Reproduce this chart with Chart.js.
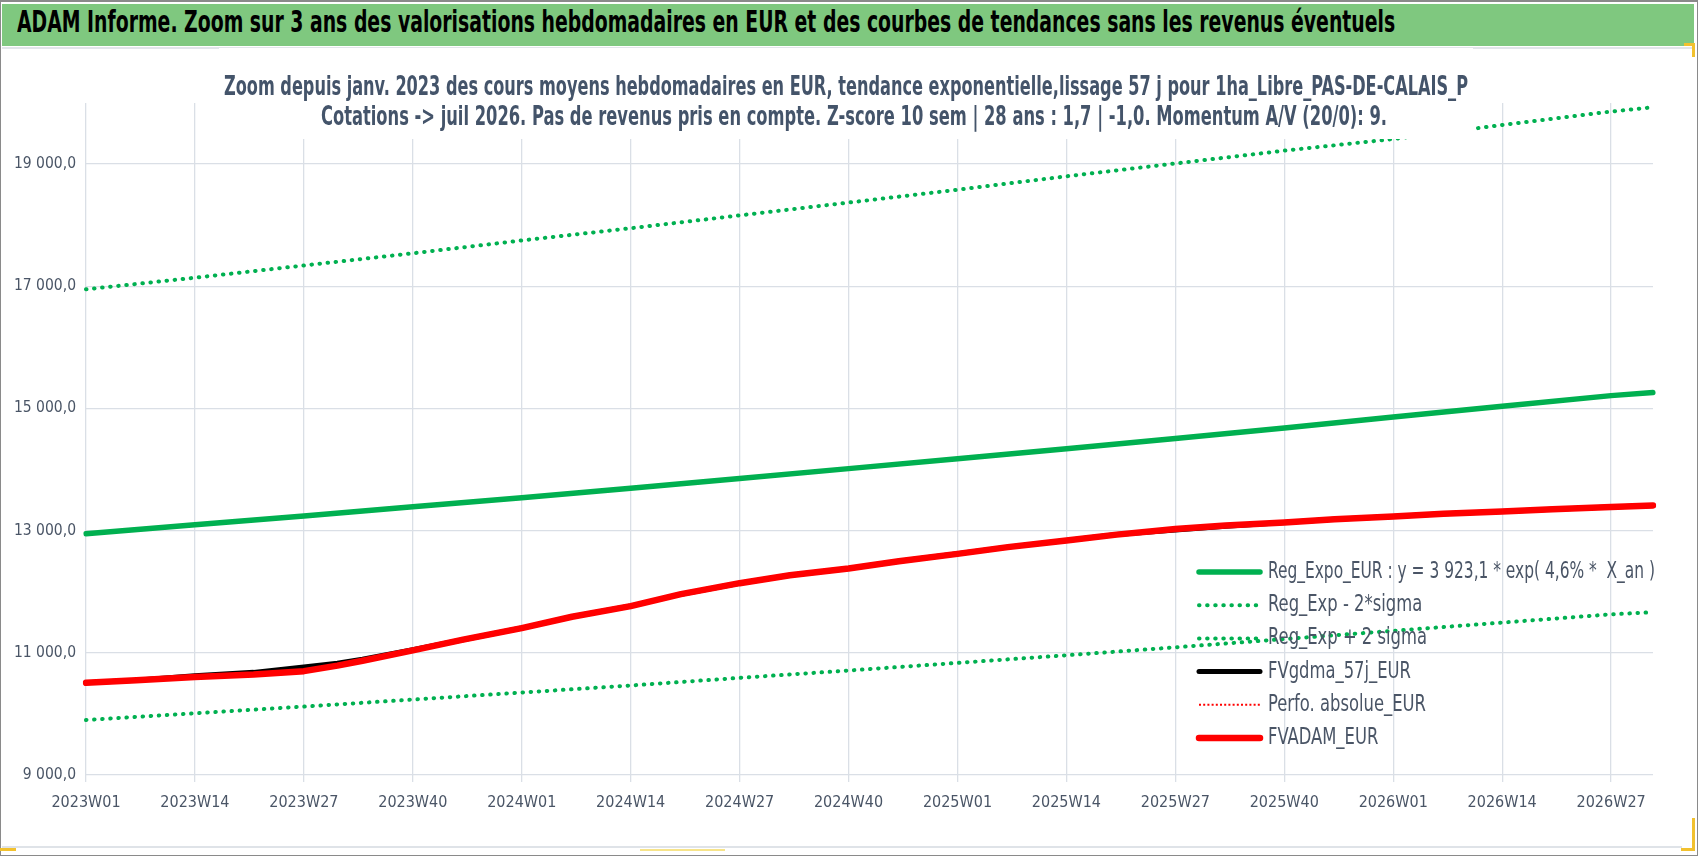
<!DOCTYPE html>
<html lang="fr">
<head>
<meta charset="utf-8">
<title>ADAM Informe – zoom 3 ans</title>
<script src="https://cdn.jsdelivr.net/npm/chart.js@4.4.1/dist/chart.umd.min.js"></script>
<style>
  html, body { margin: 0; padding: 0; background: #fff; }
  #frame { position: relative; width: 1698px; height: 856px; overflow: hidden; background: #fff; }
  #border { position: absolute; left: 0; top: 0; width: 1698px; height: 856px; box-sizing: border-box; border: 1px solid #8a8a8a; border-top-width: 2px; }
  #header { position: absolute; left: 2px; top: 4px; width: 1692px; height: 42px; background: #7fc87f; }
  #headerText { position: absolute; left: 15px; top: 0; line-height: 42px; white-space: nowrap;
    font: bold 30px "Liberation Sans Narrow", "DejaVu Sans Condensed", "Open Sans", sans-serif;
    color: #000; transform-origin: 0 50%; }
  #headerLine { position: absolute; left: 2px; top: 47px; width: 1692px; height: 2px; background: #e2e5ea; }
  #chartWrap { position: absolute; left: 1px; top: 48px; width: 1690px; height: 798px; }
  #bottomLine { position: absolute; left: 2px; top: 846px; width: 1680px; height: 2px; background: #dfe3e8; }
  .mark { position: absolute; box-sizing: border-box; }
</style>
</head>
<body>
<div id="frame">
  <div id="header"><span id="headerText">ADAM Informe. Zoom sur 3 ans des valorisations hebdomadaires en EUR et des courbes de tendances sans les revenus éventuels</span></div>
  <div id="headerLine"></div>
  <div id="chartWrap"><canvas id="chart" width="1690" height="798"></canvas></div>
  <div id="bottomLine"></div>
  <div id="border"></div>
  <!-- Excel selection handles -->
  <div class="mark" style="left:0;top:848px;width:16px;height:3px;background:#f2c12e"></div>
  <div class="mark" style="left:640px;top:849px;width:85px;height:2px;background:#f7e48a"></div>
  <div class="mark" style="left:1681px;top:818px;width:14px;height:33px;border-right:3px solid #f2c12e;border-bottom:3px solid #f2c12e"></div>
  <div class="mark" style="left:1684px;top:43px;width:11px;height:14px;border-top:3px solid #f2c12e;border-right:3px solid #f2c12e"></div>
</div>

<script>
// ─────────────────────────────────────────────
// Data
// ─────────────────────────────────────────────
const SUBTITLE = [
  "Zoom depuis janv. 2023 des cours moyens hebdomadaires en EUR, tendance exponentielle,lissage 57 j pour 1ha_Libre_PAS-DE-CALAIS_P",
  "Cotations -> juil 2026. Pas de revenus pris en compte. Z-score 10 sem | 28 ans : 1,7 | -1,0. Momentum A/V (20/0): 9."
];

// weekly categories 2023W01 .. 2026W32
const weeks = [];
for (const [year, last] of [[2023, 52], [2024, 52], [2025, 52], [2026, 32]]) {
  for (let w = 1; w <= last; w++) weeks.push(`${year}W${String(w).padStart(2, "0")}`);
}

const xTickLabels = ["2023W01", "2023W14", "2023W27", "2023W40", "2024W01", "2024W14", "2024W27", "2024W40",
                     "2025W01", "2025W14", "2025W27", "2025W40", "2026W01", "2026W14", "2026W27"];
const yTicks = [9000, 11000, 13000, 15000, 17000, 19000];

// trend curves, read at each labelled week + last week
const trendWeeks = ["2023W01", "2023W14", "2023W27", "2023W40", "2024W01", "2024W14", "2024W27", "2024W40",
                    "2025W01", "2025W14", "2025W27", "2025W40", "2026W01", "2026W14", "2026W27", "2026W32"];
const regExpo  = [12950, 13095, 13240, 13390, 13540, 13695, 13855, 14015, 14175, 14340, 14510, 14680, 14860, 15035, 15210, 15260];
const regLow   = [ 9900, 10010, 10120, 10235, 10350, 10465, 10590, 10710, 10835, 10960, 11090, 11225, 11360, 11495, 11630, 11665];
const regHigh  = [16950, 17140, 17340, 17540, 17750, 17950, 18160, 18370, 18580, 18800, 19010, 19220, 19410, 19640, 19860, 19930];

// valuation curves, read roughly every 6-7 weeks
const adamWeeks = ["2023W01", "2023W07", "2023W14", "2023W21", "2023W27", "2023W31", "2023W34", "2023W40", "2023W46",
                   "2024W01", "2024W07", "2024W14", "2024W20", "2024W27", "2024W33", "2024W40", "2024W46",
                   "2025W01", "2025W07", "2025W14", "2025W20", "2025W27", "2025W33", "2025W40", "2025W46",
                   "2026W01", "2026W07", "2026W14", "2026W20", "2026W27", "2026W32"];
const fvGdma   = [10510, 10550, 10625, 10680, 10770, 10830, 10895, 11050, 11215,
                  11405, 11590, 11765, 11960, 12140, 12270, 12380, 12500,
                  12620, 12730, 12840, 12935, 13010, 13070, 13135, 13185,
                  13232, 13275, 13314, 13350, 13386, 13412];
const perfoAbs = [10510, 10550, 10605, 10645, 10700, 10790, 10870, 11040, 11215,
                  11405, 11590, 11765, 11960, 12140, 12270, 12380, 12500,
                  12620, 12730, 12840, 12935, 13025, 13085, 13135, 13185,
                  13232, 13275, 13314, 13350, 13386, 13412];
const fvAdam   = [10510, 10550, 10605, 10645, 10700, 10790, 10870, 11040, 11215,
                  11405, 11590, 11765, 11960, 12140, 12270, 12380, 12500,
                  12620, 12730, 12840, 12935, 13025, 13085, 13135, 13185,
                  13232, 13275, 13314, 13350, 13386, 13412];

// ─────────────────────────────────────────────
// Styles
// ─────────────────────────────────────────────
const GREEN = "#00b050";
const FONT  = '"Liberation Sans Narrow", "DejaVu Sans Condensed", "Open Sans", sans-serif';
const TEXT  = "#4a5566";
const GRID  = "#dadfe6";
const DOTS  = [0.5, 7.6];

const pts = (labels, values) => labels.map((l, i) => ({ x: l, y: values[i] }));

function frNum(v) {
  return Math.round(v).toString().replace(/\B(?=(\d{3})+(?!\d))/g, " ") + ",0";
}

// draws text squeezed horizontally by factor sx
function squeezeText(ctx, text, x, y, sx) {
  ctx.save();
  ctx.translate(x, y);
  ctx.scale(sx, 1);
  ctx.fillText(text, 0, 0);
  ctx.restore();
}

// subtitle drawn over the plot, on a white box (as in the Excel original)
const subtitleBox = {
  id: "subtitleBox",
  afterDatasetsDraw(chart) {
    const ctx = chart.ctx;
    const cx = chart.width / 2;
    ctx.save();
    ctx.fillStyle = "#fff";
    ctx.fillRect(cx - 627, 0, 1254, 91);
    ctx.fillStyle = "#44546a";
    ctx.font = `bold 26px ${FONT}`;
    ctx.textAlign = "center";
    ctx.textBaseline = "middle";
    squeezeText(ctx, SUBTITLE[0], cx, 40, 1244 / ctx.measureText(SUBTITLE[0]).width);
    squeezeText(ctx, SUBTITLE[1], cx + 8, 70, 1066 / ctx.measureText(SUBTITLE[1]).width);
    ctx.restore();
  }
};

// legend inside the plot, lower right
const legendBox = {
  id: "legendBox",
  afterDatasetsDraw(chart) {
    const { ctx, chartArea } = chart;
    const x0 = chartArea.right - 456;
    const y0 = chartArea.top + 469;
    ctx.save();
    ctx.font = `23px ${FONT}`;
    ctx.textBaseline = "middle";
    const base = 143 / ctx.measureText("FVgdma_57j_EUR").width;
    chart.data.datasets.forEach((ds, i) => {
      const y = y0 + i * 33.2;
      ctx.beginPath();
      ctx.strokeStyle = ds.borderColor;
      ctx.lineWidth   = ds.borderWidth;
      ctx.lineCap     = ds.borderCapStyle || "round";
      ctx.setLineDash(ds.borderDash || []);
      ctx.moveTo(x0 + 2, y);
      ctx.lineTo(x0 + 63, y);
      ctx.stroke();
      ctx.setLineDash([]);
      ctx.fillStyle = TEXT;
      const sx = Math.min(base, 387 / ctx.measureText(ds.label).width);
      squeezeText(ctx, ds.label, x0 + 71, y, sx);
    });
    ctx.restore();
  }
};

// ─────────────────────────────────────────────
// Chart
// ─────────────────────────────────────────────
function draw() {
  const head = document.getElementById("headerText");
  head.style.transform = `scaleX(${1378 / head.offsetWidth})`;

  new Chart(document.getElementById("chart"), {
    type: "line",
    data: {
      labels: weeks,
      datasets: [
        { label: "Reg_Expo_EUR : y = 3 923,1 * exp( 4,6% *  X_an )", data: pts(trendWeeks, regExpo),
          borderColor: GREEN, borderWidth: 5.5, borderCapStyle: "round", order: 5 },
        { label: "Reg_Exp - 2*sigma", data: pts(trendWeeks, regLow),
          borderColor: GREEN, borderWidth: 4, borderDash: DOTS, borderCapStyle: "round", order: 4 },
        { label: "Reg_Exp + 2 sigma", data: pts(trendWeeks, regHigh),
          borderColor: GREEN, borderWidth: 4, borderDash: DOTS, borderCapStyle: "round", order: 3 },
        { label: "FVgdma_57j_EUR", data: pts(adamWeeks, fvGdma),
          borderColor: "#000", borderWidth: 5, borderCapStyle: "round", order: 2 },
        { label: "Perfo. absolue_EUR", data: pts(adamWeeks, perfoAbs),
          borderColor: "#ff0000", borderWidth: 2, borderDash: [2, 2.2], borderCapStyle: "butt", order: 1 },
        { label: "FVADAM_EUR", data: pts(adamWeeks, fvAdam),
          borderColor: "#ff0000", borderWidth: 6.5, borderCapStyle: "round", order: 0 },
      ]
    },
    options: {
      responsive: false,
      devicePixelRatio: 1,
      animation: false,
      layout: { padding: { top: 55, right: 38, left: 0, bottom: 0 } },
      elements: { point: { radius: 0 }, line: { tension: 0, borderJoinStyle: "round" } },
      plugins: { legend: { display: false }, tooltip: { enabled: false }, title: { display: false } },
      scales: {
        x: {
          type: "category",
          afterBuildTicks: s => { s.ticks = xTickLabels.map(l => ({ value: weeks.indexOf(l) })); },
          afterFit: s => { s.height = 71; },
          grid: { color: GRID, lineWidth: 1.3, drawTicks: true, tickLength: 7 },
          border: { display: false },
          ticks: { autoSkip: false, maxRotation: 0, padding: 11, color: TEXT,
                   font: { family: FONT, size: 16 } }
        },
        y: {
          min: 9000,
          max: 20000,
          afterBuildTicks: s => { s.ticks = yTicks.map(v => ({ value: v })); },
          afterFit: s => { s.width = 85; },
          grid: { color: GRID, lineWidth: 1.3, drawTicks: false },
          border: { display: false },
          ticks: { padding: 10, color: TEXT, font: { family: FONT, size: 15.5 },
                   callback: v => frNum(v) }
        }
      }
    },
    plugins: [subtitleBox, legendBox]
  });
}

if (document.fonts && document.fonts.ready) document.fonts.ready.then(draw);
else window.addEventListener("load", draw);
</script>
</body>
</html>
